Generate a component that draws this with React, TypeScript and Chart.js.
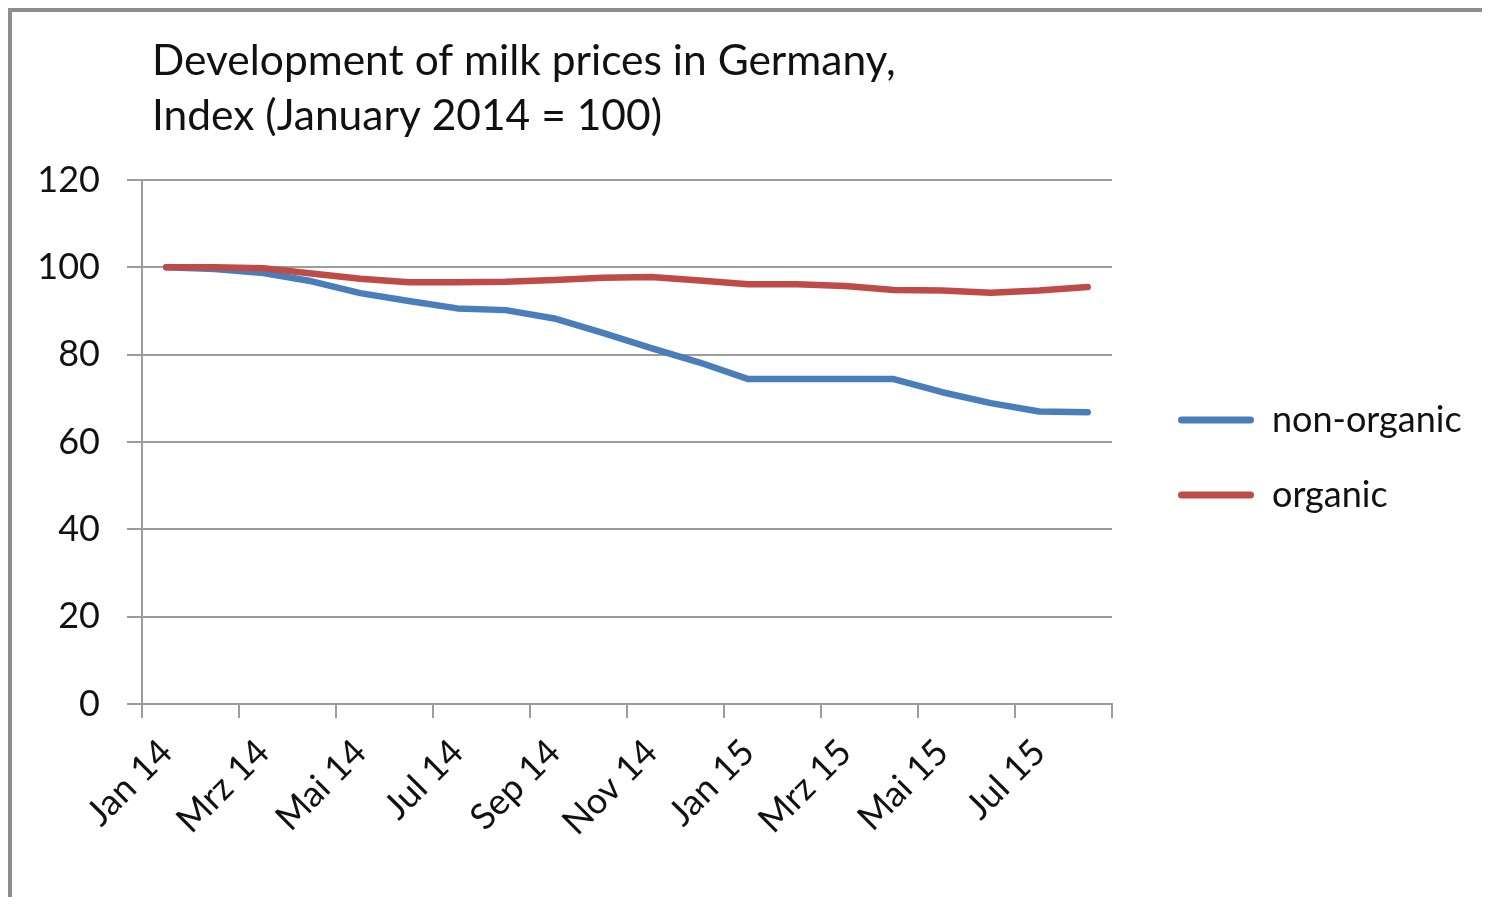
import React, { useEffect, useRef } from 'react';
import { Chart, registerables } from 'chart.js';

Chart.register(...registerables);

// ---- data ----
const MONTHS = ['Jan 14', 'Feb 14', 'Mrz 14', 'Apr 14', 'Mai 14', 'Jun 14', 'Jul 14', 'Aug 14', 'Sep 14', 'Okt 14',
  'Nov 14', 'Dez 14', 'Jan 15', 'Feb 15', 'Mrz 15', 'Apr 15', 'Mai 15', 'Jun 15', 'Jul 15', 'Aug 15'];
const NON_ORGANIC = [100, 99.6, 98.7, 96.8, 94.1, 92.3, 90.6, 90.2, 88.3, 85.0,
  81.5, 78.2, 74.4, 74.4, 74.4, 74.4, 71.4, 68.9, 67.0, 66.8];
const ORGANIC = [100, 100, 99.8, 98.6, 97.4, 96.6, 96.6, 96.7, 97.1, 97.6,
  97.8, 97.0, 96.1, 96.1, 95.7, 94.8, 94.7, 94.2, 94.7, 95.5];
const SERIES_NAMES = ['non-organic', 'organic'];
const TITLE_LINES = ['Development of milk prices in Germany,', 'Index (January 2014 = 100)'];
const Y_MIN = 0;
const Y_MAX = 120;
const Y_STEP = 20;

// ---- layout / style ----
const W = 1470;
const H = 885;
const FONT = 'Lato';
const AREA_LEFT = 130;
const AREA_TOP = 168;
const AREA_RIGHT = 1100;
const AREA_BOTTOM = 692;
const TITLE_SIZE = 42.5;
const TITLE_LH = 55;
const TITLE_PAD_TOP = 22;
const Y_TICK_SIZE = 36;
const X_TICK_SIZE = 36;
const LEGEND_SIZE = 36;
const LEGEND_PAD = 39;
const BOX_W = 76;
const LEGEND_ITEM_X = 1166;
const LEGEND_DY = 3;
const TITLE_X = 140;
const GRID = '#9c9c9c';
const TEXT = '#111111';
const BLUE = '#4a7ebb';
const RED = '#be4b48';
const LINE_W = 6.5;

export default function App() {
  const ref = useRef<HTMLCanvasElement>(null);

  useEffect(() => {
    const canvas = ref.current;
    if (!canvas) return;
    const mctx = canvas.getContext('2d')!;
    mctx.font = `${LEGEND_SIZE}px ${FONT}`;
    const textW = Math.max(...SERIES_NAMES.map((n) => mctx.measureText(n).width));
    const legendW = LEGEND_PAD + BOX_W + LEGEND_SIZE / 2 + textW + 10;
    const padRight = Math.max(0, W - AREA_RIGHT - legendW);

    const shiftPlugin = {
      id: 'shiftBoxes',
      afterLayout(chart: any) {
        const lg = chart.legend;
        if (lg) {
          const dx = LEGEND_ITEM_X - LEGEND_PAD - lg.left;
          lg.left += dx;
          lg.right += dx;
          lg.top += LEGEND_DY;
          lg.bottom += LEGEND_DY;
        }
        const t = chart.titleBlock;
        if (t) {
          const dx = TITLE_X - t.left;
          t.left += dx;
          t.right += dx;
        }
      },
    };

    const chart = new Chart(canvas, {
      type: 'line',
      data: {
        labels: MONTHS,
        datasets: [
          {
            label: SERIES_NAMES[0],
            data: NON_ORGANIC,
            borderColor: BLUE,
            backgroundColor: BLUE,
            borderWidth: LINE_W,
            pointRadius: 0,
            tension: 0,
            borderJoinStyle: 'round',
            borderCapStyle: 'round',
            order: 1,
          },
          {
            label: SERIES_NAMES[1],
            data: ORGANIC,
            borderColor: RED,
            backgroundColor: RED,
            borderWidth: LINE_W,
            pointRadius: 0,
            tension: 0,
            borderJoinStyle: 'round',
            borderCapStyle: 'round',
            order: 0,
          },
        ],
      },
      options: {
        responsive: false,
        animation: false,
        devicePixelRatio: 1,
        layout: { padding: { left: 0, top: 0, right: padRight, bottom: 0 } },
        font: { family: FONT },
        color: TEXT,
        plugins: {
          tooltip: { enabled: false },
          title: {
            display: true,
            text: TITLE_LINES,
            align: 'start',
            fullSize: false,
            color: TEXT,
            font: { family: FONT, size: TITLE_SIZE, weight: 'normal', lineHeight: TITLE_LH / TITLE_SIZE },
            padding: { top: TITLE_PAD_TOP, bottom: AREA_TOP - TITLE_PAD_TOP - TITLE_LH * 2 },
          },
          legend: {
            display: true,
            position: 'right',
            align: 'center',
            labels: {
              color: TEXT,
              font: { family: FONT, size: LEGEND_SIZE },
              boxWidth: BOX_W,
              boxHeight: 7,
              padding: LEGEND_PAD,
              useBorderRadius: true,
              borderRadius: 3.5,
              sort: (a: any, b: any) => a.datasetIndex - b.datasetIndex,
              generateLabels: (ch: any) => {
                const items = Chart.defaults.plugins.legend.labels.generateLabels(ch);
                return items.map((it: any) => ({ ...it, fillStyle: it.strokeStyle, lineWidth: 0 }));
              },
            },
          },
        },
        scales: {
          x: {
            type: 'category',
            offset: true,
            border: { display: true, color: GRID, width: 2 },
            grid: {
              offset: true,
              drawOnChartArea: false,
              drawTicks: true,
              tickLength: 14,
              lineWidth: 2,
              color: GRID,
              tickColor: (c: any) => (c.index === undefined || c.index % 2 === 0 ? GRID : 'rgba(0,0,0,0)'),
            },
            ticks: {
              autoSkip: false,
              maxRotation: 45,
              minRotation: 45,
              padding: 13,
              color: TEXT,
              font: { family: FONT, size: X_TICK_SIZE },
              callback: (_v: any, i: number) => (i % 2 === 0 ? MONTHS[i] : ''),
            },
            afterFit: (s: any) => {
              s.height = H - AREA_BOTTOM;
            },
          },
          y: {
            min: Y_MIN,
            max: Y_MAX,
            border: { display: true, color: GRID, width: 2 },
            grid: { color: GRID, lineWidth: 2, tickLength: 15, drawTicks: true },
            ticks: {
              stepSize: Y_STEP,
              padding: 27,
              color: TEXT,
              font: { family: FONT, size: Y_TICK_SIZE },
            },
            afterFit: (s: any) => {
              s.width = AREA_LEFT;
            },
          },
        },
      },
      plugins: [shiftPlugin],
    } as any);

    return () => chart.destroy();
  }, []);

  return (
    <div
      style={{
        borderLeft: '4px solid #8e8e8e',
        borderTop: '4px solid #8e8e8e',
        width: W,
        height: H,
      }}
    >
      <canvas ref={ref} width={W} height={H} style={{ display: 'block' }} />
    </div>
  );
}
